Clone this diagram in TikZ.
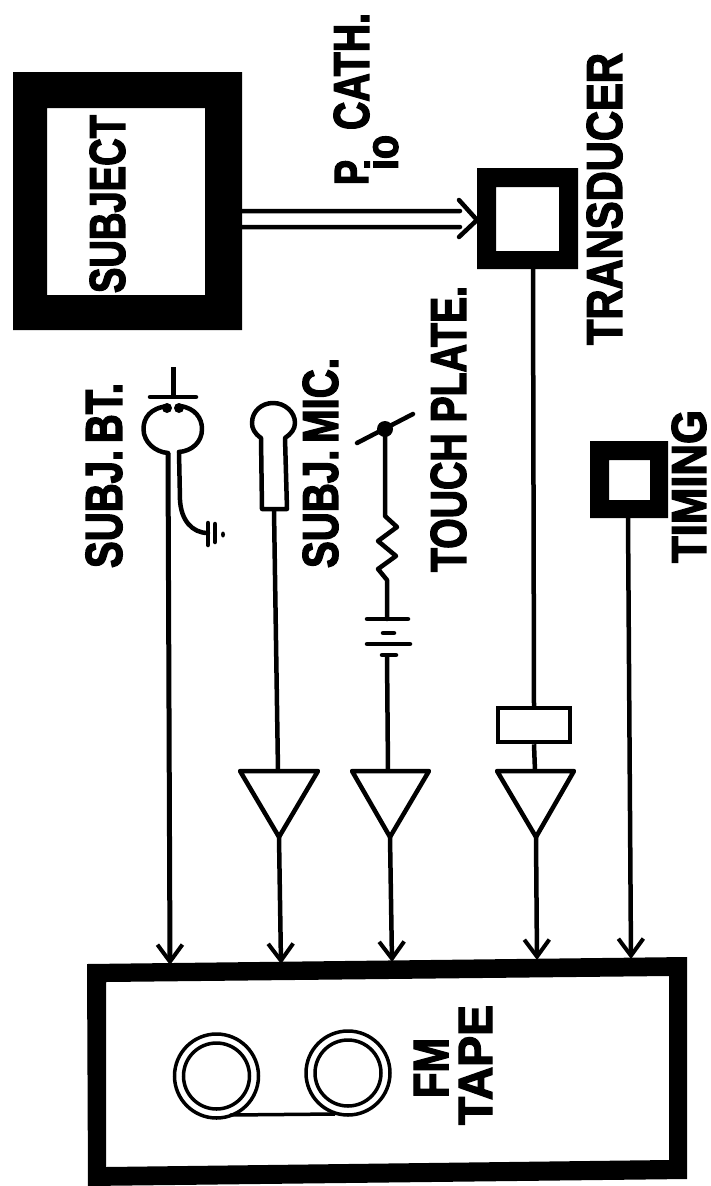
\documentclass[tikz,border=0pt]{standalone}
\usepackage{graphicx}
\usepackage{fontspec}
\setmainfont{Liberation Sans}[BoldFeatures={FakeBold=3}]
\usetikzlibrary{arrows.meta}
\tikzset{
  ink/.style={line width=4.5pt,line cap=round,line join=round},
  wire/.style={line width=4.5pt},
  barb/.style={-{Straight Barb[length=17pt,width=25pt,line width=4pt]}},
  amp/.style={line width=4.5pt,line join=round,fill=white},
  lab/.style={inner sep=0pt,rotate=90,anchor=center},
  reel/.style={line width=3.5pt},
}
\newcommand{\vlabn}[6]{\node[lab] (#1) at ({(#2+#3)/2},{(#4+#5)/2}) {\resizebox{\dimexpr #5pt-#4pt\relax}{\dimexpr #3pt-#2pt\relax}{\textbf{#6}}};}
\begin{document}
\begin{tikzpicture}[x=1pt,y=-1pt]
\useasboundingbox (0,0) rectangle (711,1186);
% blocks
\fill[even odd rule] (13,72) rectangle (242,330) (47,108) rectangle (205,295);
\fill[even odd rule] (477,168) rectangle (578,269) (496,187) rectangle (559,251);
\fill[even odd rule] (590,441) rectangle (668,518) (609,460) rectangle (650,500);
\fill[even odd rule] (87,964) -- (687,957) -- (687,1179) -- (88,1186) -- cycle
  (106,982) -- (669,976) -- (669,1160) -- (106,1167) -- cycle;
\coordinate (subjR) at (242,219);
\coordinate (transL) at (477,220);
\coordinate (transB) at (533,269);
\coordinate (timB) at (628,518);
\coordinate (t1) at (170,965);
\coordinate (t2) at (281,964);
\coordinate (t3) at (392,962);
\coordinate (t4) at (537,960);
\coordinate (t5) at (631,959);
% labels
\vlabn{subj}{90}{125}{115}{293}{SUBJECT}
\vlabn{bt}{86}{122}{383}{568}{SUBJ.\,BT.}
\vlabn{mic}{303}{338}{358}{568}{SUBJ.\,MIC.}
\vlabn{touch}{431}{466}{286}{572}{TOUCH PLATE.}
\vlabn{trans}{587}{622}{53}{345}{TRANSDUCER}
\vlabn{timing}{672}{706}{410}{563}{TIMING}
\vlabn{pp}{335}{368}{160}{185}{P}
\vlabn{io}{365}{398}{135}{170}{io}
\vlabn{cath}{334}{369}{13}{130}{CATH.}
\vlabn{fm}{414}{448}{1038}{1098}{FM}
\vlabn{tape}{459}{492}{1005}{1125}{TAPE}
% double arrow
\draw[ink] (242,211) -- (460,211) (459,200) -- (transL) -- (459,237) (460,227) -- (242,227);
% subj bt
\draw[wire] (173.5,367) -- (173.5,396);
\draw[ink] (150,397) -- (196,397);
\fill (167,408) circle (5);
\fill (179,408) circle (5);
\coordinate (btL) at (168,453);
\draw[ink] (168,406) .. controls (150,408) and (143.5,418) .. (143.5,429) .. controls (143.5,442) and (155,452) .. (168,453);
\draw[ink] (180,406) .. controls (195,408) and (202,418) .. (202,429) .. controls (202,442) and (192,451) .. (179,452);
\draw[ink] (179,452) -- (180,500) .. controls (181,520) and (192,533) .. (208,533);
\draw[ink] (208,523) -- (208,545) (215,524) -- (215,542);
\fill (223,534.5) ellipse (2 and 3);
\draw[barb,line width=5pt] (btL) -- (t1);
% subj mic
\draw[ink] (262,509) -- (261,438) .. controls (254,433) and (252,428) .. (252,423) .. controls (252,411) and (262,403) .. (273,403) .. controls (285,403) and (295,412) .. (295,423) .. controls (295,429) and (291,434) .. (285,438) -- (287,509) -- cycle;
\coordinate (micB) at (274,510);
\coordinate (a1T) at (278,771);
\coordinate (a1B) at (279,837);
\draw[wire] (micB) -- (a1T);
\draw[amp] (240,771) -- (318,771) -- (a1B) -- cycle;
\draw[barb,wire] (a1B) -- (t2);
% touch plate
\coordinate (sw) at (385,429);
\draw[ink] (357,443) -- (413,414);
\fill (sw) circle (8);
\coordinate (batT) at (387,619);
\draw[ink] (sw) -- (385,516) -- (397,527) -- (378,541) -- (396,556) -- (378,569) -- (387,580) -- (batT);
\draw[ink] (367,619) -- (408,619) (383,633) -- (394,633) (367,644) -- (410,644) (382,655) -- (396,655);
\coordinate (batB) at (387,655);
\coordinate (a2T) at (388,771);
\coordinate (a2B) at (390,837);
\draw[wire] (batB) -- (a2T);
\draw[amp] (352,771) -- (429,771) -- (a2B) -- cycle;
\draw[barb,wire] (a2B) -- (t3);
% transducer chain
\node[draw,line width=4.5pt,fill=white,minimum width=72pt,minimum height=34pt,inner sep=0pt] (gain) at (534,725) {};
\coordinate (a3T) at (535,771);
\coordinate (a3B) at (536,837);
\draw[wire] (transB) -- (gain.north);
\draw[wire] (gain.south) -- (a3T);
\draw[amp] (497,771) -- (574,771) -- (a3B) -- cycle;
\draw[barb,wire] (a3B) -- (t4);
% timing
\draw[barb,wire] (timB) -- (t5);
% reels
\draw[reel] (216.5,1076) circle (42);
\draw[reel] (216.5,1076) circle (33);
\draw[reel] (348,1073) circle (42);
\draw[reel] (348,1073) circle (33);
\draw[line width=3.5pt] (230,1115) -- (335,1114);
\end{tikzpicture}
\end{document}
